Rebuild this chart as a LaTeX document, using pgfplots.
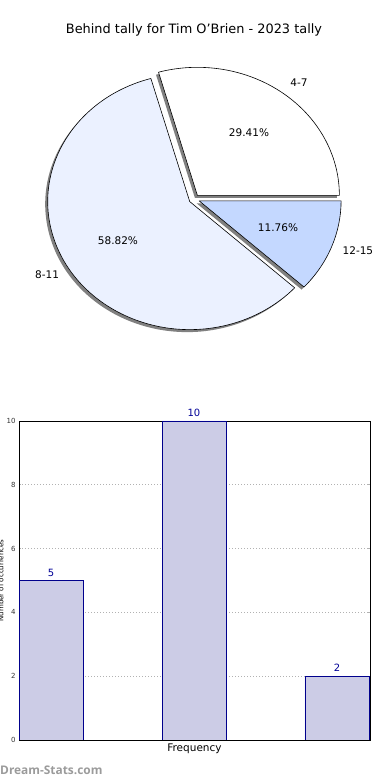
\documentclass[border=0pt]{standalone}
\usepackage{pgfplots}
\usepackage{pgfplotstable}
\pgfplotsset{compat=1.18}
\usepackage{fontspec}
\setmainfont{DejaVu Sans}
\newfontfamily\wmfont{Open Sans}
\definecolor{sliceA}{RGB}{255,255,255}
\definecolor{sliceB}{RGB}{235,241,255}
\definecolor{sliceC}{RGB}{196,216,255}
\definecolor{barfill}{RGB}{204,204,230}
\definecolor{baredge}{RGB}{0,0,140}
\definecolor{vallab}{RGB}{0,0,150}
\definecolor{wmgray}{RGB}{155,155,155}

\pgfplotstableread{
idx label count
0 4-7 5
1 8-11 10
2 12-15 2
}\datatable

\begin{document}
\begin{tikzpicture}
% ---- pie angles from the data ----
\pgfplotstablegetelem{0}{count}\of\datatable \let\cA\pgfplotsretval
\pgfplotstablegetelem{1}{count}\of\datatable \let\cB\pgfplotsretval
\pgfplotstablegetelem{2}{count}\of\datatable \let\cC\pgfplotsretval
\pgfmathsetmacro\tot{\cA+\cB+\cC}
\pgfmathsetmacro\sA{0}
\pgfmathsetmacro\eA{360*\cA/\tot}
\pgfmathsetmacro\sB{\eA}
\pgfmathsetmacro\eB{\eA+360*\cB/\tot}
\pgfmathsetmacro\sC{\eB}
\pgfmathsetmacro\eC{360}
\pgfmathsetmacro\oxA{0.037*cos((\sA+\eA)/2)}\pgfmathsetmacro\oyA{0.037*sin((\sA+\eA)/2)}
\pgfmathsetmacro\oxB{0.037*cos((\sB+\eB)/2)}\pgfmathsetmacro\oyB{0.037*sin((\sB+\eB)/2)}
\pgfmathsetmacro\oxC{0.037*cos((\sC+\eC)/2)}\pgfmathsetmacro\oyC{0.037*sin((\sC+\eC)/2)}

\node[font=\fontsize{12.9}{15}\selectfont] at (194pt,750pt) {Behind tally for Tim O{\char39}Brien - 2023 tally};

\begin{axis}[at={(194.2pt,580.9pt)}, anchor=center, scale only axis,
  width=340.8pt, height=307.2pt, xmin=-1.2, xmax=1.2, ymin=-1.2, ymax=1.2,
  hide axis, clip=false]
  % shadows
  \fill[black!50] ([shift={(-2.5pt,-2.5pt)}]axis cs:\oxA,\oyA) -- ++(\sA:142pt and 128pt) arc[start angle=\sA, end angle=\eA, x radius=142pt, y radius=128pt] -- cycle;
  \fill[black!50] ([shift={(-2.5pt,-2.5pt)}]axis cs:\oxB,\oyB) -- ++(\sB:142pt and 128pt) arc[start angle=\sB, end angle=\eB, x radius=142pt, y radius=128pt] -- cycle;
  \fill[black!50] ([shift={(-2.5pt,-2.5pt)}]axis cs:\oxC,\oyC) -- ++(\sC:142pt and 128pt) arc[start angle=\sC, end angle=\eC, x radius=142pt, y radius=128pt] -- cycle;
  % wedges
  \filldraw[fill=sliceA, draw=black, line width=0.6pt, line join=round] (axis cs:\oxA,\oyA) -- ++(\sA:142pt and 128pt) arc[start angle=\sA, end angle=\eA, x radius=142pt, y radius=128pt] -- cycle;
  \filldraw[fill=sliceB, draw=black, line width=0.6pt, line join=round] (axis cs:\oxB,\oyB) -- ++(\sB:142pt and 128pt) arc[start angle=\sB, end angle=\eB, x radius=142pt, y radius=128pt] -- cycle;
  \filldraw[fill=sliceC, draw=black, line width=0.6pt, line join=round] (axis cs:\oxC,\oyC) -- ++(\sC:142pt and 128pt) arc[start angle=\sC, end angle=\eC, x radius=142pt, y radius=128pt] -- cycle;
  % labels
  \node[font=\fontsize{10.5}{12}\selectfont] at (axis cs:0.738,0.907) {4-7};
  \node[font=\fontsize{10.5}{12}\selectfont] at (axis cs:0.386,0.516) {29.41\%};
  \node[font=\fontsize{10.5}{12}\selectfont] at (axis cs:-0.537,-0.327) {58.82\%};
  \node[font=\fontsize{10.5}{12}\selectfont] at (axis cs:-1.036,-0.593) {8-11};
  \node[font=\fontsize{10.5}{12}\selectfont] at (axis cs:0.590,-0.226) {11.76\%};
  \node[font=\fontsize{10.5}{12}\selectfont] at (axis cs:1.153,-0.405) {12-15};
\end{axis}

\begin{axis}[at={(19pt,40pt)}, anchor=south west, scale only axis,
  width=351pt, height=319pt,
  xmin=-0.224, xmax=2.231, ymin=0, ymax=10,
  ytick={0,2,4,6,8,10}, xtick=\empty,
  /pgf/number format/assume math mode=true,
  yticklabel style={font=\fontsize{7}{8}\selectfont, color=black!80},
  ymajorgrids, grid style={gray!60, line width=0.9pt, dash pattern=on 0.9pt off 2.1pt},
  axis line style={black, line width=0.8pt},
  major tick length=2pt, tick style={gray!60, line width=0.8pt},
  ybar, bar width=0.4476,
  xlabel={Frequency},
  xlabel style={font=\fontsize{10.5}{12}\selectfont, at={(axis description cs:0.5,0)}, anchor=center, yshift=-9pt},
  ylabel={Number of occurrences},
  ylabel style={font=\fontsize{7}{8}\selectfont, at={(axis description cs:-0.052,0.5)}, anchor=center},
  nodes near coords,
  nodes near coords style={font=\fontsize{10}{12}\selectfont, color=vallab, yshift=0.5pt},
  ]
  \addplot[fill=barfill, draw=baredge, line width=0.8pt] table[x=idx, y=count] {\datatable};
\end{axis}

\node[font=\wmfont\bfseries\fontsize{11.9}{13}\selectfont, color=wmgray, anchor=west, inner sep=0pt] at (0pt,10pt) {Dream-Stats.com};

\pgfresetboundingbox
\useasboundingbox (0pt,0pt) rectangle (390pt,780pt);
\end{tikzpicture}
\end{document}
